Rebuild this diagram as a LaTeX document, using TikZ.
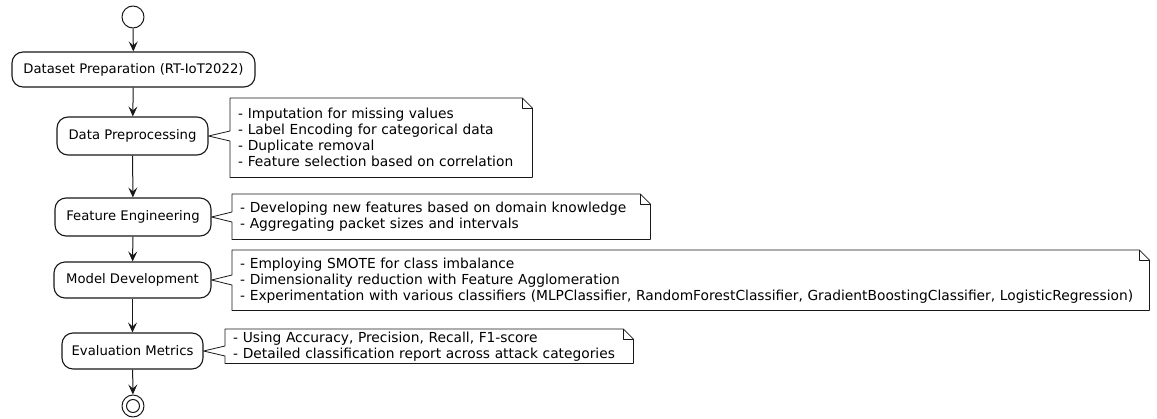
\documentclass[tikz,border=0pt]{standalone}
\usepackage{fontspec}
\setmainfont{DejaVu Sans}
\usetikzlibrary{arrows.meta,calc}
\definecolor{umlline}{HTML}{181818}

% outline of a note (#1) with its pointer to an activity (#2)
\newcommand\notebox[2]{%
  \draw[noteline] (#1.north west) -- ([xshift=-10pt]#1.north east)
    -- ([yshift=-10pt]#1.north east) -- (#1.south east) -- (#1.south west)
    -- ($(#1.west |- #2.east)+(0,5)$) -- (#2.east)
    -- ($(#1.west |- #2.east)+(0,-5)$) -- cycle;
  \draw[noteline] ([xshift=-10pt]#1.north east) -- ([xshift=-10pt,yshift=-10pt]#1.north east)
    -- ([yshift=-10pt]#1.north east);
}

\begin{document}
\begin{tikzpicture}[x=1pt, y=-1pt, line join=round,
    >={Stealth[length=10pt,width=9pt,inset=4pt]},
    act/.style={draw=umlline, line width=1.1pt, rounded corners=11pt, fill=white,
      inner sep=0pt, font=\fontsize{13.2}{15}\selectfont},
    notetxt/.style={anchor=north west, inner xsep=8pt, inner ysep=0pt, align=left,
      font=\fontsize{13.8}{16}\selectfont},
    noteline/.style={draw=umlline, line width=0.8pt},
    flow/.style={->, draw=umlline, line width=1pt}]
  \useasboundingbox (0,0) rectangle (1157,418);
  % start and activities
  \node[circle, draw=umlline, line width=1pt, minimum size=22pt, inner sep=0pt] (start) at (133,17) {};
  \node[act, minimum width=243, minimum height=35] (prep) at (133.5,69.5) {Dataset Preparation (RT-IoT2022)};
  \node[act, minimum width=151, minimum height=38] (pre) at (132.5,136) {Data Preprocessing};
  \node[act, minimum width=156, minimum height=38] (feat) at (133,217) {Feature Engineering};
  \node[act, minimum width=157, minimum height=36] (model) at (132.5,280) {Model Development};
  \node[act, minimum width=141, minimum height=36] (eval) at (132.5,351) {Evaluation Metrics};
  \node[circle, draw=umlline, line width=1pt, minimum size=22pt, inner sep=0pt] (stop) at (133,406) {};
  \node[circle, draw=umlline, line width=1pt, minimum size=13pt, inner sep=0pt] (stopin) at (stop) {};
  \foreach \a/\b in {start/prep, prep/pre, pre/feat, feat/model, model/eval, eval/stop}
    \draw[flow] (\a) -- (\b);
  % notes
  \node[notetxt, text width=286, minimum height=79] (npre) at (230,98) {- Imputation for missing values\\- Label Encoding for categorical data\\- Duplicate removal\\- Feature selection based on correlation};
  \node[notetxt, text width=402, minimum height=45] (nfeat) at (232,194) {- Developing new features based on domain knowledge\\- Aggregating packet sizes and intervals};
  \node[notetxt, text width=901, minimum height=60] (nmodel) at (232,250) {- Employing SMOTE for class imbalance\\- Dimensionality reduction with Feature Agglomeration\\- Experimentation with various classifiers (MLPClassifier, RandomForestClassifier, GradientBoostingClassifier, LogisticRegression)};
  \node[notetxt, text width=392, minimum height=34] (neval) at (225,329) {- Using Accuracy, Precision, Recall, F1-score\\- Detailed classification report across attack categories};
  \notebox{npre}{pre}
  \notebox{nfeat}{feat}
  \notebox{nmodel}{model}
  \notebox{neval}{eval}
\end{tikzpicture}
\end{document}
